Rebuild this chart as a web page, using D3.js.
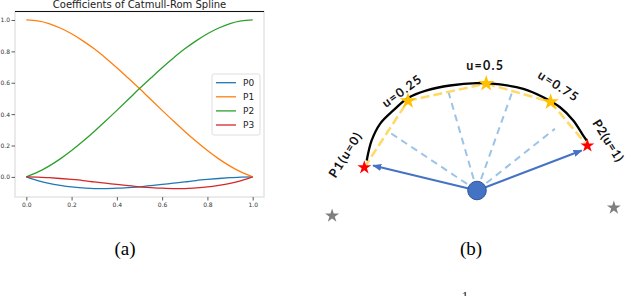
<!DOCTYPE html>
<html>
<head>
<meta charset="utf-8">
<script src="https://cdn.jsdelivr.net/npm/d3@7"></script>
<style>
  body { margin: 0; background: #fff; }
  svg { display: block; }
</style>
</head>
<body>
<div id="container"></div>
<script>
// DATA -- panel (a)
const uValues = [0, 0.05, 0.1, 0.15, 0.2, 0.25, 0.3, 0.35, 0.4, 0.45, 0.5,
  0.55, 0.6, 0.65, 0.7, 0.75, 0.8, 0.85, 0.9, 0.95, 1];
const p0Values = [0, -0.023, -0.041, -0.054, -0.064, -0.070, -0.074, -0.074, -0.072, -0.068, -0.063,
  -0.056, -0.048, -0.040, -0.032, -0.023, -0.016, -0.010, -0.005, -0.001, 0];
const p1Values = [1, 0.994, 0.977, 0.949, 0.912, 0.867, 0.816, 0.758, 0.696, 0.630, 0.563,
  0.493, 0.424, 0.356, 0.290, 0.227, 0.168, 0.115, 0.069, 0.030, 0];
const p2Values = [0, 0.030, 0.069, 0.115, 0.168, 0.227, 0.290, 0.356, 0.424, 0.493, 0.563,
  0.630, 0.696, 0.758, 0.816, 0.867, 0.912, 0.949, 0.977, 0.994, 1];
const p3Values = [0, -0.001, -0.005, -0.010, -0.016, -0.023, -0.032, -0.040, -0.048, -0.056, -0.063,
  -0.068, -0.072, -0.074, -0.074, -0.070, -0.064, -0.054, -0.041, -0.023, 0];
const seriesNames = ["P0", "P1", "P2", "P3"];
const xTicks = [0, 0.2, 0.4, 0.6, 0.8, 1.0];
const yTicks = [0, 0.2, 0.4, 0.6, 0.8, 1.0];
const xLimits = [-0.05, 1.05];
const yLimits = [-0.128, 1.054];
const chartTitle = "Coefficients of Catmull-Rom Spline";

// DATA -- panel (b), in units of the arc radius around the blue centre point
const knotLabels = ["P1(u=0)", "u=0.25", "u=0.5", "u=0.75", "P2(u=1)"];
const knotX = [-0.98, -0.60, 0.08, 0.64, 0.96];
const knotY = [0.20, 0.78, 0.93, 0.77, 0.39];
const ctrlX = [-1.26, 1.19]; // P0, P3 (grey stars)
const ctrlY = [-0.22, -0.15];
const arcX = [-0.959, -0.916, -0.843, -0.728, -0.597, -0.437, -0.235, -0.003,
  0.200, 0.403, 0.577, 0.722, 0.837, 0.924, 0.954];
const arcY = [0.261, 0.435, 0.580, 0.696, 0.806, 0.870, 0.913, 0.933,
  0.922, 0.884, 0.811, 0.724, 0.609, 0.478, 0.435];
const rayX = [-0.785, -0.252, 0.316, 0.678];
const rayY = [0.522, 0.870, 0.884, 0.537];
const arrowX = [-0.903, 0.910];
const arrowY = [0.217, 0.348];
const captions = ["(a)", "(b)"];

// CONST and GLOBALS
const W = 628, H = 296;
const colors = ["#1f77b4", "#ff7f0e", "#2ca02c", "#d62728"];
const frame = { left: 15, right: 264, top: 11.5, bottom: 197 };

const svg = d3.select("#container").append("svg")
  .attr("width", W).attr("height", H)
  .attr("viewBox", `0 0 ${W} ${H}`);

svg.append("rect").attr("width", W).attr("height", H).attr("fill", "#fff");

// ---------- panel (a) ----------
const xScale = d3.scaleLinear().domain(xLimits).range([frame.left, frame.right]);
const yScale = d3.scaleLinear().domain(yLimits).range([frame.bottom, frame.top]);

const series = [p0Values, p1Values, p2Values, p3Values].map((vals, i) => ({
  name: seriesNames[i],
  color: colors[i],
  points: uValues.map((u, j) => ({ u: u, v: vals[j] })),
}));

// frame: faint spines, dark top edge
svg.append("rect")
  .attr("x", frame.left).attr("y", frame.top)
  .attr("width", frame.right - frame.left)
  .attr("height", frame.bottom - frame.top)
  .attr("fill", "#fff")
  .attr("stroke", "#e4e4e4")
  .attr("stroke-width", 1.5);
svg.append("line")
  .attr("x1", frame.left).attr("x2", frame.right)
  .attr("y1", frame.top).attr("y2", frame.top)
  .attr("stroke", "#111").attr("stroke-width", 1);

// title, partly cut by the top of the picture
svg.append("text")
  .attr("x", (frame.left + frame.right) / 2)
  .attr("y", 7.5)
  .attr("text-anchor", "middle")
  .attr("font-family", "DejaVu Sans")
  .attr("font-size", 10)
  .attr("fill", "#222")
  .text(chartTitle);

// AXES
const xAxis = d3.axisBottom(xScale).tickValues(xTicks)
  .tickFormat(d3.format(".1f")).tickSize(3.5).tickPadding(2);
const yAxis = d3.axisLeft(yScale).tickValues(yTicks)
  .tickFormat(d3.format(".1f")).tickSize(3.5).tickPadding(1.5);

svg.append("g")
  .attr("class", "axis x-axis")
  .attr("transform", `translate(0,${frame.bottom})`)
  .call(xAxis)
  .call((g) => g.select(".domain").remove());

svg.append("g")
  .attr("class", "axis y-axis")
  .attr("transform", `translate(${frame.left},0)`)
  .call(yAxis)
  .call((g) => g.select(".domain").remove());

svg.selectAll(".axis text")
  .attr("font-family", "DejaVu Sans")
  .attr("font-size", 6)
  .attr("fill", "#333");
svg.selectAll(".axis line").attr("stroke", "#333").attr("stroke-width", 0.8);

// LINES
const line = d3.line()
  .x((d) => xScale(d.u))
  .y((d) => yScale(d.v))
  .curve(d3.curveMonotoneX);

svg.append("g")
  .selectAll("path")
  .data(series)
  .join("path")
  .attr("d", (d) => line(d.points))
  .attr("fill", "none")
  .attr("stroke", (d) => d.color)
  .attr("stroke-width", 1.3);

// LEGEND
const legend = svg.append("g").attr("transform", "translate(212,74)");
legend.append("rect")
  .attr("width", 48).attr("height", 61)
  .attr("rx", 2)
  .attr("fill", "#fff")
  .attr("stroke", "#d6d6d6")
  .attr("stroke-width", 0.8);
const item = legend.selectAll("g.item")
  .data(series)
  .join("g")
  .attr("class", "item")
  .attr("transform", (d, i) => `translate(0,${8.7 + i * 14.1})`);
item.append("line")
  .attr("x1", 4).attr("x2", 24)
  .attr("stroke", (d) => d.color)
  .attr("stroke-width", 1.3);
item.append("text")
  .attr("x", 31).attr("dy", "0.35em")
  .attr("font-family", "DejaVu Sans")
  .attr("font-size", 9)
  .attr("fill", "#222")
  .text((d) => d.name);

// ---------- panel (b) ----------
const rUnit = 115;
const cx = 477, cy = 190.5;
const xB = d3.scaleLinear().domain([0, 1]).range([cx, cx + rUnit]);
const yB = d3.scaleLinear().domain([0, 1]).range([cy, cy - rUnit]);

const knots = knotX.map((x, i) => ({ x: x, y: knotY[i], label: knotLabels[i] }));

// light blue dashed rays from the centre
svg.append("g")
  .selectAll("line")
  .data(rayX.map((x, i) => ({ x: x, y: rayY[i] })))
  .join("line")
  .attr("x1", xB(0)).attr("y1", yB(0))
  .attr("x2", (d) => xB(d.x)).attr("y2", (d) => yB(d.y))
  .attr("stroke", "#9dc3e6")
  .attr("stroke-width", 2)
  .attr("stroke-dasharray", "7,5");

// yellow dashed chords between knots
svg.append("g")
  .selectAll("line")
  .data(d3.pairs(knots))
  .join("line")
  .attr("x1", (d) => xB(d[0].x)).attr("y1", (d) => yB(d[0].y))
  .attr("x2", (d) => xB(d[1].x)).attr("y2", (d) => yB(d[1].y))
  .attr("stroke", "#ffd966")
  .attr("stroke-width", 2.5)
  .attr("stroke-dasharray", "9,4");

// black spline arc
const arcLine = d3.line()
  .x((d, i) => xB(d))
  .y((d, i) => yB(arcY[i]))
  .curve(d3.curveCatmullRom);
svg.append("path")
  .attr("d", arcLine(arcX))
  .attr("fill", "none")
  .attr("stroke", "#000")
  .attr("stroke-width", 2.3);

// arrows from the centre to P1 and P2
svg.append("defs").append("marker")
  .attr("id", "arrow")
  .attr("viewBox", "0 0 10 10")
  .attr("refX", 9).attr("refY", 5)
  .attr("markerWidth", 9).attr("markerHeight", 9)
  .attr("markerUnits", "userSpaceOnUse")
  .attr("orient", "auto")
  .append("path")
  .attr("d", "M0,1 L10,5 L0,9 Z")
  .attr("fill", "#4472c4");

svg.append("g")
  .selectAll("line")
  .data(arrowX.map((x, i) => ({ x: x, y: arrowY[i] })))
  .join("line")
  .attr("x1", xB(0)).attr("y1", yB(0))
  .attr("x2", (d) => xB(d.x)).attr("y2", (d) => yB(d.y))
  .attr("stroke", "#4472c4")
  .attr("stroke-width", 2)
  .attr("marker-end", "url(#arrow)");

// centre point
svg.append("circle")
  .attr("cx", xB(0)).attr("cy", yB(0))
  .attr("r", 9.3)
  .attr("fill", "#4472c4")
  .attr("stroke", "#2f5597")
  .attr("stroke-width", 1);

// stars
const star = (size) => d3.symbol(d3.symbolStar, size)();
svg.append("g")
  .selectAll("path")
  .data(ctrlX.map((x, i) => ({ x: x, y: ctrlY[i] })))
  .join("path")
  .attr("d", star(60))
  .attr("transform", (d) => `translate(${xB(d.x)},${yB(d.y)})`)
  .attr("fill", "#7f7f7f");

svg.append("g")
  .selectAll("path")
  .data(knots)
  .join("path")
  .attr("d", (d, i) => (i === 0 || i === knots.length - 1 ? star(60) : star(84)))
  .attr("transform", (d) => `translate(${xB(d.x)},${yB(d.y)})`)
  .attr("fill", (d, i) => (i === 0 || i === knots.length - 1 ? "#ff0000" : "#ffc000"));

// knot labels: offset (px) from each star and rotation
const labelOffset = [[-19, -13], [-6, -10], [-1, -18], [8, -16], [21, -5]];
const labelRotate = [-58, -36, 0, 33, 58];
svg.append("g")
  .selectAll("text")
  .data(knots)
  .join("text")
  .attr("transform", (d, i) =>
    `translate(${xB(d.x) + labelOffset[i][0]},${yB(d.y) + labelOffset[i][1]}) rotate(${labelRotate[i]})`)
  .attr("text-anchor", "middle")
  .attr("dominant-baseline", "central")
  .attr("font-family", "Lato")
  .attr("font-weight", "bold")
  .attr("font-size", 12.5)
  .attr("letter-spacing", (d, i) => (i === knots.length - 1 ? 0.6 : 1.2))
  .attr("fill", "#111")
  .text((d) => d.label);

// ---------- captions ----------
svg.append("g")
  .selectAll("text")
  .data(captions)
  .join("text")
  .attr("x", (d, i) => [125, 471][i])
  .attr("y", 255)
  .attr("text-anchor", "middle")
  .attr("font-family", "Liberation Serif")
  .attr("font-size", 19)
  .attr("fill", "#000")
  .text((d) => d);

// page number, cut off at the bottom as in the source page
svg.append("text")
  .attr("x", 465).attr("y", 300)
  .attr("text-anchor", "middle")
  .attr("font-family", "Liberation Serif")
  .attr("font-size", 12)
  .attr("fill", "#000")
  .text("1");
</script>
</body>
</html>
